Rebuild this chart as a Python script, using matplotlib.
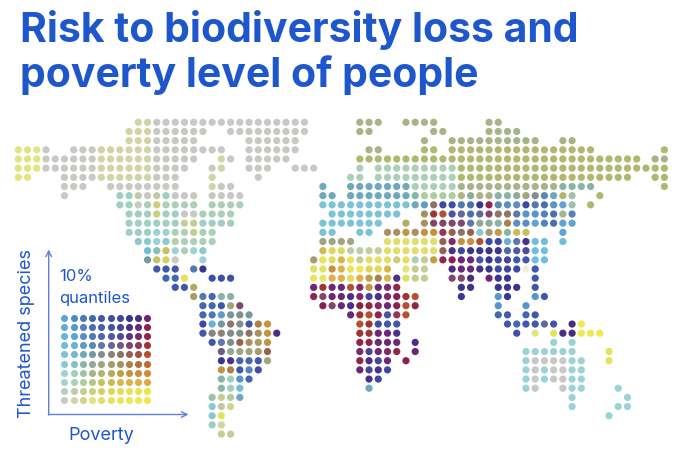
import matplotlib
matplotlib.use("Agg")
import matplotlib.pyplot as plt

title_lines = ["Risk to biodiversity loss and", "poverty level of people"]
y_label = "Threatened species"
x_label = "Poverty"
legend_lines = ["10%", "quantiles"]

# legend colours, one list per threat decile, poverty decile 0..9 left to right
threat_9 = ["#5CA5D5", "#4F8CC6", "#4A78BC", "#4466B0", "#4058AC", "#3F4FA8", "#3E48A2", "#3B3592", "#4A2C82", "#6E2668"]
threat_8 = ["#5FADD8", "#5596CC", "#4E82C0", "#4A6EB4", "#4660AE", "#4453A8", "#47449C", "#4B2F8C", "#6C2878", "#8A2050"]
threat_7 = ["#66B5DB", "#5EA4D2", "#5890C6", "#5078B4", "#4E68AC", "#5058A4", "#4F4A98", "#5E3488", "#7E2A6C", "#93244A"]
threat_6 = ["#6FBEDC", "#68B0D4", "#5F9CC4", "#5C88B0", "#5F78A8", "#62689C", "#6C5C84", "#80466C", "#93365A", "#A03434"]
threat_5 = ["#7CC2D8", "#74B8CE", "#6FA8BC", "#74989E", "#808F8C", "#8A8578", "#8E7468", "#98604E", "#A65040", "#B4502F"]
threat_4 = ["#8CC8D0", "#88BEBC", "#88B4A8", "#8FAB98", "#A0A580", "#A89C6E", "#A89060", "#B07E48", "#B4703C", "#BE6C34"]
threat_3 = ["#9CD2D6", "#9FCFC0", "#9EC2A8", "#A9B388", "#B0B870", "#B4AC5C", "#BCA044", "#C49442", "#CC8E3E", "#D08A38"]
threat_2 = ["#A8D4CE", "#ACCFB8", "#B0CBA0", "#B8C688", "#C4C260", "#CCBC50", "#D6B84A", "#DCB046", "#E0B044", "#E0A840"]
threat_1 = ["#B8CCC4", "#BCCCA8", "#C4CE94", "#CCCE7C", "#D4D060", "#DCD858", "#E4DC54", "#EAE050", "#EEE04C", "#EEE04A"]
threat_0 = ["#C8C8C4", "#D2D4A6", "#D4D488", "#E2E480", "#E0E068", "#E4E45C", "#E8E658", "#ECE850", "#F0E84C", "#F0E848"]
legend_colors = [threat_0, threat_1, threat_2, threat_3, threat_4, threat_5, threat_6, threat_7, threat_8, threat_9]
pale_cell = "#EEF0D0"

# each cell is threat decile + poverty decile, segments are (first column, cells)
row_00 = [(13, "01 01" + " 00" * 17), (37, "33 33 33"), (42, "33 33 33 33"), (51, "33 33")]
row_01 = [(12, "01 01 01" + " 00" * 6), (23, "00 " * 9), (37, "33 33"), (45, "33 33"), (51, "33 33 33 33")]
row_02 = [(12, "01 01 01" + " 00" * 5), (25, "00 " * 6), (44, "33"), (47, "33 " * 10), (59, "33 33")]
row_03 = [(0, "03 03 03 00"), (6, "00 00 00 01 01 01 01 01 01"), (15, "00 " * 8), (25, "00 " * 6), (38, "33 33"), (44, "34 34"), (47, "34 " * 16), (70, "34")]
row_04 = [(0, "03 03 03" + " 00" * 6), (9, "01 " * 6), (15, "00 " * 5), (22, "01 00"), (25, "00 " * 5), (37, "34 " * 31), (69, "33 33")]
row_05 = [(0, "03 03 03" + " 00" * 6), (9, "01 " * 6), (15, "00 " * 4), (21, "00 01"), (25, "00 00 00"), (30, "00 00 00"), (37, "21"), (39, "21 " * 9), (48, "34 " * 23)]
row_06 = [(0, "03 03"), (5, "00 00 00 00"), (9, "01 " * 6), (15, "00 00 00"), (21, "01"), (26, "00"), (36, "21 21"), (39, "21 " * 9), (48, "34 " * 19), (69, "34 34")]
row_07 = [(5, "00 00 00"), (10, "00 " * 8), (21, "01 00 00"), (33, "52"), (36, "52 " * 7), (43, "21 " * 5), (48, "33 " * 11), (59, "42 42 42 42"), (70, "34")]
row_08 = [(5, "00"), (11, "31 31 11 00 11 31 00 00 00"), (21, "00 00 00 00"), (33, "52 52"), (36, "52 " * 7), (43, "42 22 22 22 22 33 43 33 33 42 42 43 44 54 63 52 34 32"), (63, "34")]
row_09 = [(11, "31 31 00 21 13 21 21 21 21"), (21, "21 21 21 21"), (33, "50 " * 10), (43, "52 62 56 96 95 73 83 97 79 63 72 72 96 73 83 81 71 32"), (62, "34")]
row_10 = [(12, "31 31 31 13 31 31 00 00 21 21 21 21"), (34, "50 " * 8), (44, "46 69 59 94 65 83 65 67 56 56 64 81 81 82 83 33 82")]
row_11 = [(12, "31 31 31 31 31 31 12 12 31 31 31 31"), (33, "50 " * 7), (42, "35"), (44, "46 67 67 67 67 64 43 43 42 47 72 72 71 82 83 90 90")]
row_12 = [(12, "31 31 31 30 30 21 21 12 21 21"), (33, "50 50"), (37, "50 50"), (40, "46 46 37 46 38 38 68 57 56 57 40 45 36 42 25 24"), (59, "90")]
row_13 = [(13, "40 40 30 40 11 21 21 21 21"), (33, "44 44 44 44"), (40, "04 04 04 04 04 04 57 78 37 38 59 96 96 61 64 87 60 60"), (59, "60")]
row_14 = [(14, "60 41 24 30 21 30 40"), (33, "25 15 15 11 11 12 12 04 04 04 04 04 04 57 87 96 97 97 97 97 74 75 76 60 60")]
row_15 = [(14, "53 24 14 00"), (20, "30"), (32, "45 06 16 26 06 12 04 04 04 13 04 21 12 36 79 89 88 88 85 97 96 86 94 94 60 60")]
row_16 = [(15, "94 94 94"), (19, "73 97"), (32, "04 05 38 28 06 07 15 15 26"), (42, "03 12 12"), (47, "98 88 88 98 97 96 96 96 pp 94")]
row_17 = [(16, "93 93 05"), (21, "95 95 95"), (32, "06 06 28 28 16 27 36 47 26 87 04 12 12"), (47, "67 67 98"), (51, "88 97 97"), (56, "94")]
row_18 = [(17, "94 94 35"), (32, "88 69 88 88 59 78 37 88 78 79"), (48, "97 97"), (52, "97 97 97"), (56, "94")]
row_19 = [(19, "45 73 93 42 42"), (32, "79 67 88 88 87 78 86 87 78 89 69 59"), (48, "97"), (52, "81 97"), (56, "81 94")]
row_20 = [(20, "93 93 94 44 67"), (33, "89 67 88 87 89 79 78 88 89 59 79"), (52, "81"), (55, "81")]
row_21 = [(20, "93 73 62 53 54 53"), (36, "88 69 59 79 85 68 59"), (52, "93 94"), (55, "93 94")]
row_22 = [(20, "96 61 53 56 54 94 47 37"), (37, "59 69 95 94 94"), (53, "94 93 94 94 65 85"), (60, "98 08")]
row_23 = [(20, "94 55 55 54 54 56 46 37 98"), (37, "69 69 88 88 87"), (54, "95"), (56, "03"), (58, "05 98 98 08 08 08")]
row_24 = [(21, "94 64 54 57 46 45 37"), (37, "79 79 88 88 88"), (43, "87"), (58, "30"), (60, "30")]
row_25 = [(22, "66 43 44 44 45 57"), (37, "78 86 88 78 79"), (43, "88"), (55, "30 " * 6), (64, "05")]
row_26 = [(22, "97 87 93 93 94 44"), (37, "79 87 96 88"), (42, "89"), (55, "30 00 00 00 00 30 30"), (64, "05")]
row_27 = [(22, "37 47 94 82 95"), (37, "88 86 87 96"), (55, "30 00 30 00 00 30 30")]
row_28 = [(22, "42 31 81 93"), (38, "87 96"), (55, "30 00 30 00 00 30 30")]
row_29 = [(22, "42 31 60"), (38, "52"), (55, "30 00"), (59, "00 30 30"), (65, "30")]
row_30 = [(21, "32 12 22 52"), (60, "30"), (66, "30")]
row_31 = [(21, "40 11 02"), (60, "30"), (65, "30 30")]
row_32 = [(21, "40 05"), (64, "30")]
row_33 = [(21, "31 01")]
row_34 = [(22, "12 12")]
map_rows = [row_00, row_01, row_02, row_03, row_04, row_05, row_06, row_07, row_08, row_09,
            row_10, row_11, row_12, row_13, row_14, row_15, row_16, row_17, row_18, row_19,
            row_20, row_21, row_22, row_23, row_24, row_25, row_26, row_27, row_28, row_29,
            row_30, row_31, row_32, row_33, row_34]

W, H = 680, 459
BLUE = "#1E56CC"
AXIS_BLUE = "#5F80D4"
FONT = "Inter"

def cell_color(cell):
    if cell == "pp":
        return pale_cell
    return legend_colors[int(cell[0])][int(cell[1])]

fig = plt.figure(figsize=(W / 100, H / 100), dpi=100)

# text and arrows, in pixels
ax = fig.add_axes([0, 0, 1, 1])
ax.set_xlim(0, W)
ax.set_ylim(H, 0)
ax.axis("off")

# map axes: one unit is one grid cell
dx, dy = 9.23, 9.17
x0, y0 = 18.3, 122.3
map_ax = fig.add_axes([0, 0, 1, 1])
map_ax.set_xlim(-x0 / dx, (W - x0) / dx)
map_ax.set_ylim((H - y0) / dy, -y0 / dy)
map_ax.axis("off")

cols, rows, colors = [], [], []
for r, segments in enumerate(map_rows):
    for first, cells in segments:
        for i, cell in enumerate(cells.split()):
            cols.append(first + i)
            rows.append(r)
            colors.append(cell_color(cell))
map_ax.scatter(cols, rows, s=27, c=colors, linewidths=0)

# legend axes, poverty 0..9 against threat 0..9
leg_x0, leg_y_top = 64.4, 317.7
leg_ax = fig.add_axes([0, 0, 1, 1])
leg_ax.set_xlim(-leg_x0 / dx, (W - leg_x0) / dx)
leg_ax.set_ylim(9 - (H - leg_y_top) / dy, 9 + leg_y_top / dy)
leg_ax.axis("off")
for t in range(10):
    for p in range(10):
        leg_ax.scatter(p, t, s=26, color=legend_colors[t][p], linewidths=0)

for i, line in enumerate(title_lines):
    ax.text(20, 42 + 45 * i, line, color=BLUE, fontsize=29.5, fontweight="bold", family=FONT, va="baseline", ha="left")

ax.text(35, 333, y_label, color=BLUE, fontsize=13, family=FONT, rotation=90, va="center", ha="right")
ax.text(59, 281, legend_lines[0], color=BLUE, fontsize=12, family=FONT, va="baseline")
ax.text(59, 302.5, legend_lines[1], color=BLUE, fontsize=12, family=FONT, va="baseline")
ax.text(68.5, 440, x_label, color=BLUE, fontsize=13, family=FONT, va="baseline")

ax.annotate("", xy=(48.7, 249.5), xytext=(48.7, 415), arrowprops=dict(arrowstyle="->", color=AXIS_BLUE, lw=1, shrinkA=0, shrinkB=0, mutation_scale=10))
ax.annotate("", xy=(188.5, 414.5), xytext=(48.2, 414.5), arrowprops=dict(arrowstyle="->", color=AXIS_BLUE, lw=1, shrinkA=0, shrinkB=0, mutation_scale=10))

fig.savefig("out.png", dpi=100)
